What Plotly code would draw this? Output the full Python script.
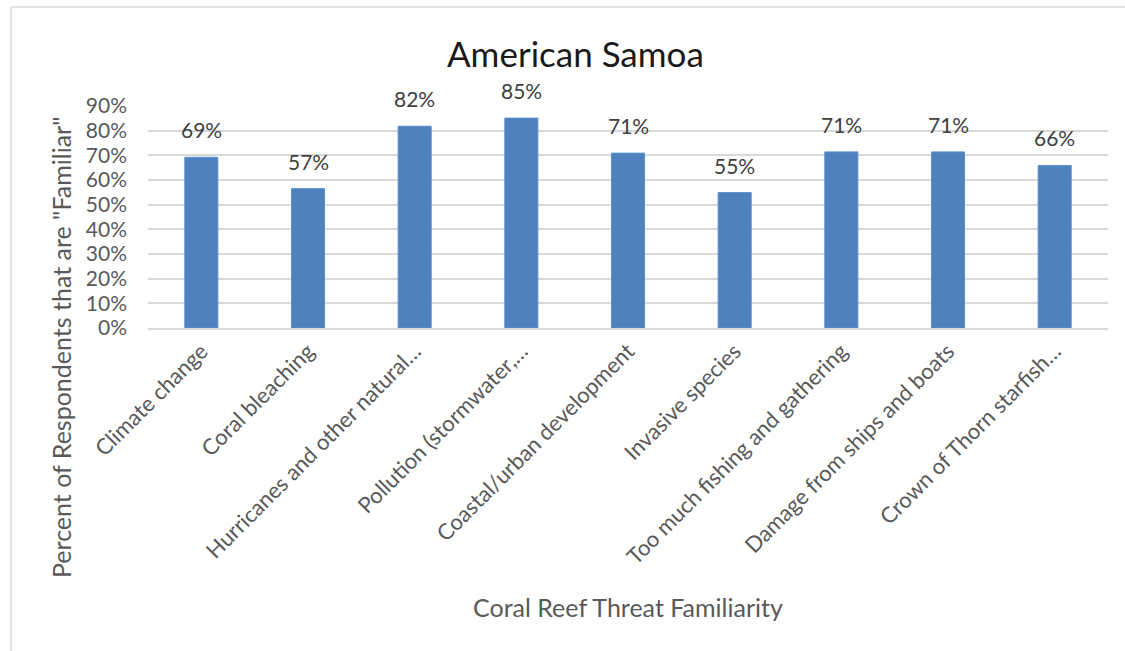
import plotly.graph_objects as go

categories = [
    "Climate change",
    "Coral bleaching",
    "Hurricanes and other natural…",
    "Pollution (stormwater,…",
    "Coastal/urban development",
    "Invasive species",
    "Too much fishing and gathering",
    "Damage from ships and boats",
    "Crown of Thorn starfish…",
]
values = [0.692, 0.565, 0.818, 0.851, 0.709, 0.549, 0.714, 0.714, 0.659]
labels = ["69%", "57%", "82%", "85%", "71%", "55%", "71%", "71%", "66%"]
y_ticks = [0, 0.1, 0.2, 0.3, 0.4, 0.5, 0.6, 0.7, 0.8, 0.9]
y_ticktext = ["0%", "10%", "20%", "30%", "40%", "50%", "60%", "70%", "80%", "90%"]

W, H = 1125, 651
L, R, T, B = 148, 17, 106, 323
pw, ph = W - L - R, H - T - B

def px_x(px):
    return (px - L) / pw

def px_y(py):
    return (H - B - py) / ph

FONT = "Lato, 'Open Sans', sans-serif"

fig = go.Figure(
    go.Bar(
        x=categories,
        y=values,
        marker=dict(color="#4F81BD", line=dict(color="#5B8FD0", width=1)),
        width=0.31,
        hoverinfo="skip",
    )
)

annotations = []
for c, v, t in zip(categories, values, labels):
    annotations.append(dict(
        x=c, y=v, text=t, xref="x", yref="y", showarrow=False,
        yanchor="bottom", yshift=13,
        font=dict(family=FONT, size=21, color="#404040"),
    ))

annotations.append(dict(
    x=px_x(575), y=px_y(53), xref="paper", yref="paper", text="American Samoa",
    showarrow=False, xanchor="center", yanchor="middle",
    font=dict(family=FONT, size=35, color="#1a1a1a"),
))
annotations.append(dict(
    x=px_x(61), y=px_y(348), xref="paper", yref="paper",
    text='Percent of Respondents that are "Familiar"', textangle=-90,
    showarrow=False, xanchor="center", yanchor="middle",
    font=dict(family=FONT, size=25, color="#595959"),
))
annotations.append(dict(
    x=px_x(628), y=px_y(607), xref="paper", yref="paper",
    text="Coral Reef Threat Familiarity",
    showarrow=False, xanchor="center", yanchor="middle",
    font=dict(family=FONT, size=25, color="#595959"),
))

shapes = [
    dict(type="line", xref="paper", yref="paper", x0=px_x(11), x1=px_x(W + 5),
         y0=px_y(7), y1=px_y(7), line=dict(color="#D9D9D9", width=1.5)),
    dict(type="line", xref="paper", yref="paper", x0=px_x(11), x1=px_x(11),
         y0=px_y(7), y1=px_y(H + 5), line=dict(color="#D9D9D9", width=1.5)),
]

fig.update_layout(
    width=W, height=H,
    margin=dict(l=L, r=R, t=T, b=B, autoexpand=False),
    paper_bgcolor="white", plot_bgcolor="white",
    showlegend=False,
    font=dict(family=FONT, color="#595959"),
    xaxis=dict(
        tickangle=-45, tickfont=dict(family=FONT, size=22, color="#595959"),
        showgrid=False, showline=True, linecolor="#D9D9D9", linewidth=1.5,
        ticks="", automargin=False,
    ),
    yaxis=dict(
        range=[0, 0.9], tickvals=y_ticks, ticktext=y_ticktext,
        tickfont=dict(family=FONT, size=21, color="#595959"),
        showgrid=True, gridcolor="#D9D9D9", gridwidth=1.5,
        zeroline=False, showline=False, ticks="", automargin=False,
        ticklabelstandoff=20,
    ),
    annotations=annotations,
    shapes=shapes,
)

fig.write_html(
    "out.html",
    config={"displayModeBar": False},
    post_script="document.body.style.margin='0';document.body.style.overflow='hidden';",
)
